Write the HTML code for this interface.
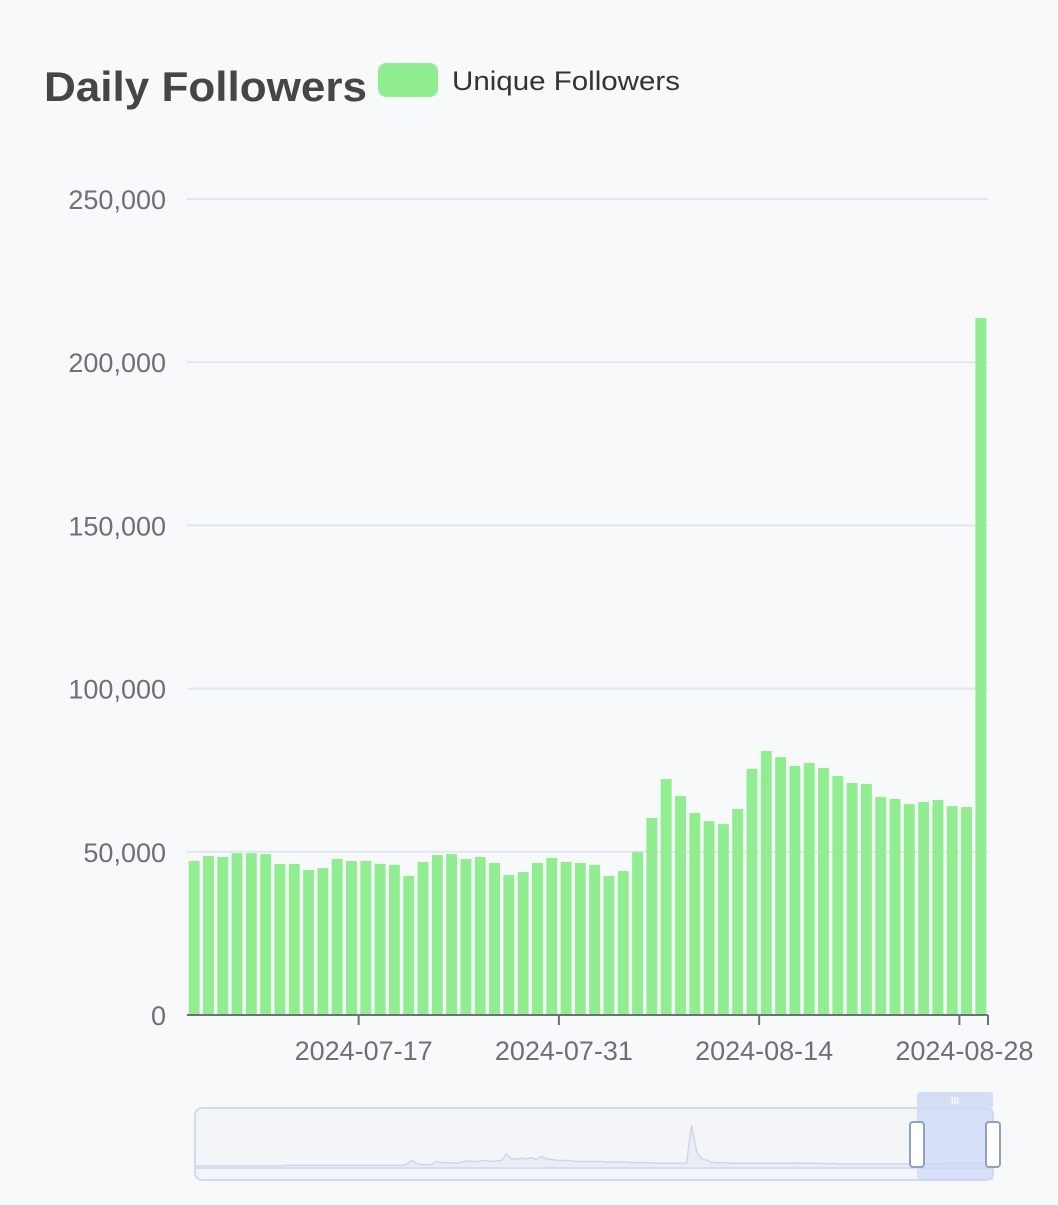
<!DOCTYPE html>
<html><head><meta charset="utf-8"><style>
body{margin:0;background:#f8f9fb;width:1058px;height:1200px;overflow:hidden;font-family:"Liberation Sans",sans-serif}
</style></head><body>
<svg id="c" width="1058" height="1200" xmlns="http://www.w3.org/2000/svg">
<text x="44" y="101" font-size="42" font-weight="bold" fill="#464646" textLength="323" lengthAdjust="spacingAndGlyphs">Daily Followers</text>
<g>
<rect x="378" y="63" width="60" height="34" rx="8" fill="#90ee90"/>
<text x="452" y="90" font-size="27" fill="#333" textLength="228" lengthAdjust="spacingAndGlyphs">Unique Followers</text>
</g>
<g id="grid"></g><g id="bars"></g><g id="xaxis"></g>
<g>
<rect x="195" y="1108" width="798" height="72" rx="7" fill="#f3f5f9" stroke="#d2dbee" stroke-width="2"/>
<path id="spark" fill="#e8edf6" stroke="#cfd8e8" stroke-width="1.5"/>
<rect x="917" y="1108" width="76" height="72" fill="#c9d8f8" opacity="0.7"/>
<rect x="917" y="1092" width="76" height="16" rx="3" fill="#d5def2"/>
<text x="955" y="1104" font-size="10" fill="#fff" text-anchor="middle" font-weight="bold">III</text>
<rect x="910" y="1122" width="14" height="45" rx="3" fill="#fff" stroke="#8fa0c0" stroke-width="2"/>
<rect x="986" y="1122" width="14" height="45" rx="3" fill="#fff" stroke="#8fa0c0" stroke-width="2"/>
</g>
</svg>
<script>
const dates=[];(function(){let d=new Date(Date.UTC(2024,6,5));for(let i=0;i<56;i++){dates.push(d.toISOString().slice(0,10));d=new Date(d.getTime()+864e5);}})();
const values=[47200,48700,48400,49600,49600,49300,46300,46300,44400,45000,47800,47200,47200,46300,46000,42600,46900,49000,49300,47800,48400,46600,42900,43800,46600,48100,46900,46600,46000,42600,44100,49900,60400,72300,67100,61900,59400,58500,63100,75400,80900,79000,76300,77200,75700,73200,71100,70800,66800,66200,64600,65300,65900,64000,63700,213500];
const yTicks=[0,50000,100000,150000,200000,250000];
const xLabelIdx=[12,26,40,54];
const spark=[5,5,5,5,5,5,5,5,5,5,5,5,5,5,5,5,5,5,6,6,6,6,6,6,6,6,6,6,6,6,6,6,6,6,6,6,6,6,6,6,6,6,7,14,9,7,7,7,12,10,10,10,9,11,13,12,12,13,13,12,13,13,24,16,16,17,16,18,15,20,16,15,14,13,14,13,12,12,12,12,12,12,11,11,11,11,11,10,10,10,10,10,9,9,9,9,9,9,10,70,28,16,14,11,10,10,10,9,9,9,9,9,9,9,9,9,9,9,9,9,10,9,9,9,9,9,8,9,8,8,8,8,8,8,8,8,8,8,8,8,8,8,8,8,12,8,8,8,8,8,9,9,9,9,9,9,9,9,9,9];
const NS='http://www.w3.org/2000/svg';
const x0=187,x1=988,y0=1015,yTop=199,band=(x1-x0)/values.length;
const X=i=>x0+i*band, Y=v=>y0-(v/250000)*(y0-yTop);
function el(t,a,p){const e=document.createElementNS(NS,t);for(const k in a)e.setAttribute(k,a[k]);p.appendChild(e);return e;}
const g=document.getElementById('grid'),b=document.getElementById('bars'),xa=document.getElementById('xaxis');
yTicks.forEach(v=>{
 if(v>0){const l=el('line',{x1:x0,x2:x1,y1:Y(v),y2:Y(v),stroke:'#e0e6f1','stroke-width':2},g);
 
 }
 const t=el('text',{x:166,y:Y(v)+10,'font-size':27,fill:'#6e7079','text-anchor':'end'},g);t.textContent=v.toLocaleString('en-US');
 
 
});
values.forEach((v,i)=>{const r=el('rect',{x:X(i)+1.7,y:Y(v),width:band-3.4,height:y0-Y(v),fill:'#90ee90'},b);
 
 });
const ax=el('line',{x1:x0,x2:x1,y1:y0,y2:y0,stroke:'#6e7079','stroke-width':2},xa);


xLabelIdx.concat([values.length]).forEach(i=>{const tk=el('line',{x1:X(i),x2:X(i),y1:y0,y2:y0+10,stroke:'#6e7079','stroke-width':2},xa);
 
 });
xLabelIdx.forEach(i=>{const t=el('text',{x:X(i)+5,y:y0+45,'font-size':27,fill:'#6e7079','text-anchor':'middle'},xa);t.textContent=dates[i];
 
 });
(function(){const sx0=196,sx1=992,base=1168,h=44,n=spark.length;let d='M'+sx0+','+base;
spark.forEach((v,i)=>{d+=' L'+(sx0+i*(sx1-sx0)/(n-1)).toFixed(1)+','+(base-v/70*h+1).toFixed(1);});d+=' L'+sx1+','+base+' Z';document.getElementById('spark').setAttribute('d',d);})();
</script>
</body></html>
